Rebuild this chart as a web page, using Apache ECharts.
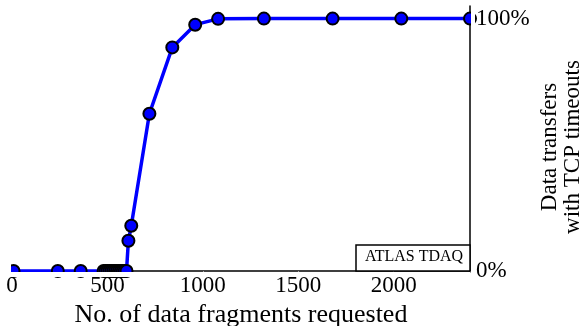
<!DOCTYPE html>
<html>
<head>
<meta charset="utf-8">
<script src="https://cdn.jsdelivr.net/npm/echarts@6/dist/echarts.min.js"></script>
<style>html,body{margin:0;padding:0;background:#fff}#c{width:581px;height:326px}</style>
</head>
<body>
<div id="c"></div>
<script>
var fragments = [8, 240, 360, 480, 490, 500, 510, 520, 530, 540, 550, 560, 570, 580, 590, 600, 610, 625, 720, 840, 960, 1080, 1320, 1680, 2040, 2400];
var timeoutPct = [0, 0, 0, 0, 0, 0, 0, 0, 0, 0, 0, 0, 0, 0, 0, 0, 12, 17.9, 62.3, 88.6, 97.6, 99.9, 100, 100, 100, 100];
var xTicks = [0, 500, 1000, 1500, 2000];
var yTicks = ['0%', '100%'];
var xTitle = 'No. of data fragments requested';
var yTitle = 'Data transfers\nwith TCP timeouts';
var watermark = 'ATLAS TDAQ';

var FONT = 'Liberation Serif';
var data = fragments.map(function (x, i) { return [x, timeoutPct[i]]; });
var chart = echarts.init(document.getElementById('c'));
chart.setOption({
  animation: false,
  grid: { left: 12, right: 111, top: 6, bottom: 55, containLabel: false, outerBoundsMode: 'none' },
  xAxis: [{
    type: 'value', min: 0, max: 2400, interval: 500,
    name: xTitle, nameLocation: 'middle', nameGap: 27,
    nameTextStyle: { fontFamily: FONT, fontSize: 26, color: '#000' },
    axisLine: { show: true, onZero: false, lineStyle: { color: '#000', width: 1.5 } },
    axisTick: { show: false },
    splitLine: { show: false },
    axisLabel: { fontFamily: FONT, fontSize: 23, color: '#000', margin: 3,
      formatter: function (v) { return xTicks.indexOf(v) >= 0 ? String(v) : ''; } }
  }, {
    type: 'value', position: 'top', min: 0, max: 2400, interval: 500,
    axisLine: { show: false },
    axisTick: { show: true, inside: true, length: 2, lineStyle: { color: '#aaa', width: 1 } },
    axisLabel: { show: false },
    splitLine: { show: false }
  }],
  yAxis: {
    type: 'value', position: 'right', min: 0, max: 105, interval: 100,
    axisLine: { show: true, onZero: false, lineStyle: { color: '#000', width: 1.5 } },
    axisTick: { show: false },
    splitLine: { show: false },
    axisLabel: { fontFamily: FONT, fontSize: 23, color: '#000', margin: 6,
      formatter: function (v) { return v === 0 ? yTicks[0] : (v === 100 ? yTicks[1] : ''); } }
  },
  graphic: [
    { type: 'rect', z: 100, shape: { x: 0, y: 272, width: 470, height: 5 }, style: { fill: '#fff' } },
    { type: 'rect', z: 100, shape: { x: 0, y: 258, width: 11, height: 14 }, style: { fill: '#fff' } },
    { type: 'rect', z: 100, shape: { x: 471, y: 10, width: 4, height: 18 }, style: { fill: '#fff' } },
    { type: 'rect', z: 101, shape: { x: 356, y: 245, width: 114, height: 26 }, style: { fill: '#fff', stroke: '#000', lineWidth: 1.5 } },
    { type: 'text', z: 102, x: 414, y: 257, style: { text: watermark, fontFamily: FONT, fontSize: 16, fill: '#000', align: 'center', verticalAlign: 'middle' } },
    { type: 'text', z: 102, x: 561, y: 147, rotation: Math.PI / 2, style: { text: yTitle, fontFamily: FONT, fontSize: 23, lineHeight: 23, fill: '#000', align: 'center', verticalAlign: 'middle' } }
  ],
  series: [{
    type: 'line', data: data, xAxisIndex: 0,
    symbol: 'circle', symbolSize: 12,
    lineStyle: { color: '#0000ff', width: 3.5 },
    itemStyle: { color: '#0000ff', borderColor: '#000', borderWidth: 2 },
    z: 5
  }]
});
</script>
</body>
</html>
